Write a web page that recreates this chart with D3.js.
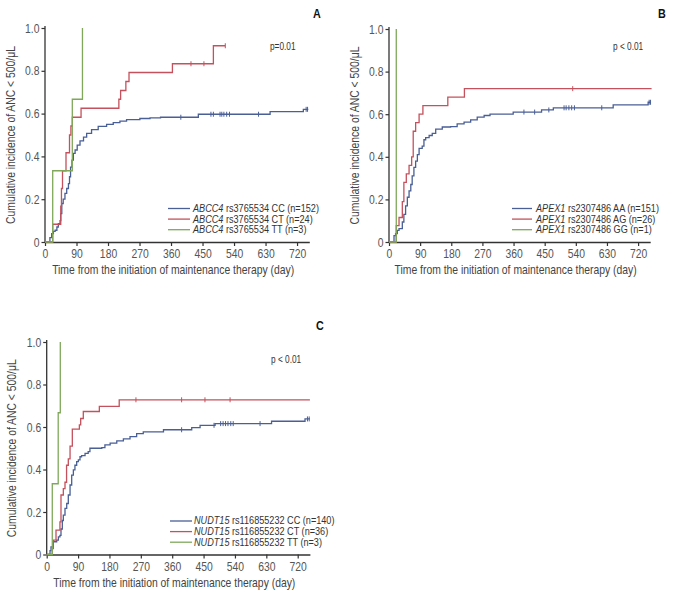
<!DOCTYPE html>
<html><head><meta charset="utf-8">
<script src="https://cdn.jsdelivr.net/npm/d3@7"></script>
<style>
body{margin:0;background:#fff;}
svg{display:block;font-family:'Liberation Sans',Arial,sans-serif;}
</style></head>
<body><svg id="c" width="676" height="598"></svg>
<script>
// ---------- data ----------
const xTicks = [0, 90, 180, 270, 360, 450, 540, 630, 720];
const yTicks = [0, 0.2, 0.4, 0.6, 0.8, 1.0];
const yTickLabels = ["0", "0.2", "0.4", "0.6", "0.8", "1.0"];

// Panel A: ABCC4 rs3765534
const A_CC = [[0,0],[14,0.02],[19,0.039],[24,0.05],[29,0.055],[34,0.07],[38,0.086],[43,0.10],[45,0.133],[48,0.18],[52,0.2],[57,0.227],[62,0.25],[67,0.273],[70,0.305],[73,0.35],[77,0.383],[81,0.414],[86,0.43],[92,0.453],[100,0.473],[110,0.49],[119,0.508],[133,0.525],[152,0.54],[176,0.55],[195,0.558],[214,0.565],[233,0.572],[271,0.577],[300,0.58],[330,0.583],[438,0.597],[643,0.609],[738,0.62],[752,0.62]];
const A_CC_cens = [388,474,481,500,505,511,519,527,610,746,750];
const A_CT = [[0,0],[22,0.083],[45,0.167],[47,0.25],[50,0.333],[60,0.417],[70,0.5],[74,0.542],[78,0.583],[103,0.625],[211,0.667],[216,0.708],[231,0.75],[240,0.792],[364,0.833],[481,0.917],[515,0.917]];
const A_CT_cens = [417,454,515];
const A_TT = [[0,0],[22,0.333],[78,0.667],[107,1.0]];
const A_labels = ["rs3765534 CC (n=152)","rs3765534 CT (n=24)","rs3765534 TT (n=3)"];

// Panel B: APEX1 rs2307486
const B_AA = [[0,0],[14.5,0.03],[19,0.039],[24,0.055],[29,0.063],[38.5,0.094],[43,0.13],[48,0.17],[53,0.21],[58,0.24],[63,0.27],[67,0.31],[72,0.35],[77,0.38],[82,0.41],[87,0.44],[96,0.45],[101,0.48],[106,0.49],[116,0.5],[125,0.51],[135,0.53],[154,0.54],[178,0.542],[197,0.555],[217,0.563],[236,0.573],[255,0.586],[275,0.594],[292,0.6],[359,0.61],[441,0.62],[475,0.63],[648,0.644],[749,0.656],[757,0.656]];
const B_AA_cens = [390,421,462,506,512,520,528,536,615,752,756];
const B_AG = [[0,0],[21,0.077],[29,0.115],[38.5,0.19],[43,0.28],[50,0.32],[58,0.36],[65.5,0.4],[70,0.52],[77,0.56],[87,0.6],[98,0.64],[170,0.68],[218,0.72],[759,0.72]];
const B_AG_cens = [531];
const B_GG = [[0,0],[21,1.0]];
const B_labels = ["rs2307486 AA (n=151)","rs2307486 AG (n=26)","rs2307486 GG (n=1)"];

// Panel C: NUDT15 rs116855232
const C_CC = [[0,0],[9.5,0.018],[12.3,0.036],[19,0.06],[28.7,0.068],[33.5,0.083],[38,0.09],[41,0.12],[44.8,0.16],[47.7,0.185],[52.5,0.217],[57.4,0.24],[62,0.28],[67,0.327],[71.7,0.374],[76.5,0.398],[81,0.42],[86,0.437],[90.8,0.445],[95.5,0.46],[100,0.465],[110,0.476],[119,0.484],[124,0.5],[158,0.503],[167,0.516],[182,0.524],[201,0.535],[220,0.544],[239,0.555],[258,0.569],[277,0.577],[335,0.587],[416,0.597],[440,0.608],[483,0.616],[645,0.627],[741,0.638],[755,0.638]];
const C_CC_cens = [387,480,499,506,513,520,528,535,612,748,753];
const C_CT = [[0,0],[16,0.028],[19,0.068],[26.7,0.115],[38,0.154],[41,0.28],[47.7,0.31],[52.5,0.34],[57,0.42],[62,0.45],[67,0.51],[73.5,0.59],[93.7,0.61],[97.5,0.64],[105,0.673],[151,0.697],[208,0.728],[755,0.728]];
const C_CT_cens = [256,387,454,526];
const C_TT = [[0,0],[16,0.333],[33,0.667],[39,1.0]];
const C_labels = ["rs116855232 CC (n=140)","rs116855232 CT (n=36)","rs116855232 TT (n=3)"];

const colors = ["#4a5f96", "#c4515c", "#7fa85a"];

// ---------- drawing ----------
const K = 0.83; // horizontal condense factor (narrow typeface look)
const svg = d3.select("#c");
const panels = [
  {letter:"A", gene:"ABCC4", p:"p=0.01", x0:45, x1:309.3, y0:242, y1:28,
   series:[A_CC,A_CT,A_TT], cens:[A_CC_cens,A_CT_cens,[]], labels:A_labels,
   lx:[168,190,193], ly:208.5, letterPos:[317,18.5], pPos:[270,50]},
  {letter:"B", gene:"APEX1", p:"p < 0.01", x0:389, x1:650.2, y0:242, y1:29,
   series:[B_AA,B_AG,B_GG], cens:[B_AA_cens,B_AG_cens,[]], labels:B_labels,
   lx:[512,532,536], ly:208.5, letterPos:[662,18.5], pPos:[613,50.5]},
  {letter:"C", gene:"NUDT15", p:"p < 0.01", x0:46.7, x1:309.9, y0:554.5, y1:342,
   series:[C_CC,C_CT,C_TT], cens:[C_CC_cens,C_CT_cens,[]], labels:C_labels,
   lx:[170,192,194], ly:521, letterPos:[320,330.5], pPos:[271,363.5]}
];

function stepVal(data, t){
  const i = d3.bisector(d => d[0]).right(data, t) - 1;
  return data[Math.max(0,i)][1];
}
function condense(node){
  const xa = +(node.getAttribute("x") || 0);
  const prev = node.getAttribute("transform") || "";
  node.setAttribute("transform", `${prev} translate(${xa},0) scale(${K},1) translate(${-xa},0)`);
}

panels.forEach(P => {
  const x = d3.scaleLinear().domain([0,755]).range([P.x0, P.x1]);
  const y = d3.scaleLinear().domain([0,1]).range([P.y0, P.y1]);
  const g = svg.append("g");

  // axes
  const xa = g.append("g").attr("transform",`translate(0,${P.y0})`)
    .call(d3.axisBottom(x).tickValues(xTicks).tickSize(4).tickPadding(3.5).tickSizeOuter(0));
  const ya = g.append("g").attr("transform",`translate(${P.x0},0)`)
    .call(d3.axisLeft(y).tickValues(yTicks).tickFormat((d,i)=>yTickLabels[i]).tickSize(3.5).tickPadding(2).tickSizeOuter(0));
  [xa,ya].forEach(a=>{
    a.selectAll("path").attr("stroke","#333").attr("stroke-width",1.3);
    a.selectAll("line").attr("stroke","#333").attr("stroke-width",1.2);
    a.selectAll("text").attr("fill","#555").style("font-size","12.5px").style("font-family","'Liberation Sans',Arial,sans-serif");
  });
  ya.select("path").attr("d",`M0,${P.y0}V${P.y1-2}`);

  // titles
  g.append("text").attr("x",(P.x0+P.x1)/2-4).attr("y",P.y0+32.5).attr("text-anchor","middle")
    .attr("fill","#444").style("font-size","12.5px").text("Time from the initiation of maintenance therapy (day)");
  g.append("text").attr("transform",`translate(${P.x0-30.5},${(P.y0+P.y1)/2}) rotate(-90)`).attr("text-anchor","middle")
    .attr("fill","#444").style("font-size","12.5px").text("Cumulative incidence of ANC < 500/\u03bcL");
  g.append("text").attr("x",P.letterPos[0]).attr("y",P.letterPos[1]).attr("text-anchor","middle")
    .attr("fill","#111").style("font-size","13px").style("font-weight","bold").text(P.letter);
  g.append("text").attr("x",P.pPos[0]).attr("y",P.pPos[1]).attr("fill","#333").style("font-size","10px").text(P.p);

  const line = d3.line().x(d=>x(d[0])).y(d=>y(d[1])).curve(d3.curveStepAfter);
  P.series.forEach((s,i)=>{
    g.append("path").datum(s).attr("d",line).attr("fill","none").attr("stroke",colors[i]).attr("stroke-width",1.3);
    g.selectAll(null).data(P.cens[i]).enter().append("line")
      .attr("x1",d=>x(d)).attr("x2",d=>x(d))
      .attr("y1",d=>y(stepVal(s,d))-2.5).attr("y2",d=>y(stepVal(s,d))+2.5)
      .attr("stroke",colors[i]).attr("stroke-width",1);
  });

  // legend: italic gene name + plain remainder as separate texts
  P.labels.forEach((lab,i)=>{
    const yy = P.ly + i*10.6;
    g.append("line").attr("x1",P.lx[0]).attr("x2",P.lx[1]).attr("y1",yy).attr("y2",yy).attr("stroke",colors[i]).attr("stroke-width",1.3);
    const tg = g.append("text").attr("class","legend").attr("x",P.lx[2]).attr("y",yy+3.5).attr("fill","#333")
      .style("font-size","11px").style("font-style","italic").text(P.gene);
    const gw = tg.node().getComputedTextLength()*K;
    g.append("text").attr("class","legend").attr("x",P.lx[2]+gw+2.5).attr("y",yy+3.5).attr("fill","#333")
      .style("font-size","11px").text(lab);
  });
});

// condense all text to emulate a narrow typeface
svg.selectAll("text").each(function(){ condense(this); });
</script></body></html>
